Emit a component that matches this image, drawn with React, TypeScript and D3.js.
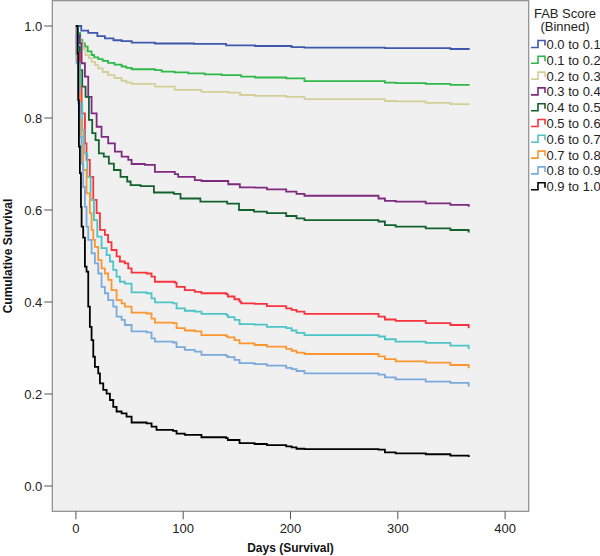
import React from "react";
import * as d3 from "d3";

type Pt = [number, number];

const groupLabels = ["0.0 to 0.1", "0.1 to 0.2", "0.2 to 0.3", "0.3 to 0.4", "0.4 to 0.5", "0.5 to 0.6", "0.6 to 0.7", "0.7 to 0.8", "0.8 to 0.9", "0.9 to 1.0"];
const groupColors = ["#3e58ac", "#2eb848", "#d4cf99", "#7e2a80", "#13622e", "#f8333c", "#4cc4c6", "#fb9630", "#7aa9dc", "#000000"];

const s01: Pt[] = [[0,1],[5,0.99],[11.5,0.985],[20,0.978],[27,0.973],[35,0.969],[42.6,0.967],[52,0.964],[73.6,0.962],[110,0.961],[140,0.958],[167,0.9565],[201,0.954],[213,0.953],[288,0.952],[349,0.95],[367,0.95]];
const s02: Pt[] = [[0,1],[2,0.985],[4,0.97],[6,0.962],[8.4,0.955],[11,0.945],[14.6,0.937],[17,0.932],[20.8,0.928],[25,0.924],[30,0.92],[36,0.916],[42.6,0.912],[47,0.909],[52,0.906],[73.6,0.904],[80,0.901],[92,0.899],[104.7,0.897],[120,0.895],[135.8,0.893],[154,0.89],[167,0.888],[196,0.886],[213,0.88],[288,0.877],[298,0.876],[326,0.874],[349,0.872],[367,0.872]];
const s03: Pt[] = [[0,1],[2,0.975],[4.3,0.962],[7,0.95],[9,0.937],[12,0.93],[14.6,0.922],[18,0.915],[20.8,0.908],[25,0.9],[30,0.893],[36,0.887],[42.6,0.881],[47,0.877],[52,0.874],[73.6,0.868],[92,0.861],[117,0.857],[142,0.855],[153,0.85],[167,0.848],[196,0.846],[213,0.841],[288,0.837],[298,0.836],[326,0.833],[349,0.83],[367,0.83]];
const s04: Pt[] = [[0,1],[2,0.98],[3.7,0.962],[5.3,0.919],[8.4,0.89],[11.5,0.846],[14.6,0.81],[19.3,0.781],[23.9,0.759],[30.1,0.745],[36.3,0.727],[42.6,0.716],[48.8,0.709],[51.9,0.7],[64.3,0.698],[73.6,0.683],[92.2,0.678],[95.3,0.672],[110.8,0.665],[117,0.663],[142,0.656],[152.8,0.649],[166.8,0.6485],[178,0.645],[196,0.64],[205.6,0.635],[213,0.631],[282,0.625],[288,0.62],[298,0.618],[326,0.6145],[349,0.611],[366,0.609],[367,0.609]];
const s05: Pt[] = [[0,1],[1.9,0.955],[3.7,0.904],[5.9,0.868],[9,0.846],[12.1,0.796],[15.2,0.767],[18.3,0.752],[21.4,0.723],[26,0.716],[30.7,0.701],[35.4,0.687],[41.6,0.672],[47.8,0.662],[51,0.654],[60.3,0.652],[72.7,0.638],[91.3,0.635],[97.5,0.625],[116,0.618],[141,0.614],[152,0.6],[166,0.5963],[178,0.593],[196,0.587],[205.6,0.582],[213,0.578],[282,0.575],[288,0.567],[298,0.564],[326,0.56],[349,0.5565],[366,0.553],[367,0.553]];
const s06: Pt[] = [[0,1],[0.6,0.94],[3.7,0.868],[5.3,0.81],[8.4,0.745],[9.9,0.709],[13,0.672],[16.2,0.622],[19.3,0.593],[22.4,0.557],[27,0.546],[30,0.53],[33.2,0.513],[37.9,0.499],[41,0.488],[45.6,0.484],[48.8,0.473],[51.9,0.464],[65.9,0.462],[70.5,0.455],[73.6,0.444],[92.2,0.442],[93.8,0.433],[101.5,0.426],[110.8,0.422],[117,0.419],[140,0.417],[141.6,0.412],[147.8,0.406],[152.5,0.401],[154,0.397],[166.5,0.396],[178,0.391],[196,0.386],[201,0.383],[205.6,0.379],[213,0.374],[282,0.368],[288,0.362],[298,0.359],[326,0.354],[349,0.35],[366,0.345],[367,0.345]];
const s07: Pt[] = [[0,1],[1.9,0.919],[3.7,0.832],[5.9,0.774],[7.5,0.723],[10.6,0.672],[13.7,0.622],[16.8,0.578],[19.9,0.542],[23.9,0.517],[28.6,0.502],[31.7,0.488],[34.8,0.47],[37.9,0.455],[41,0.444],[45.6,0.44],[51.9,0.421],[65.9,0.419],[70.5,0.408],[73.6,0.399],[90.6,0.397],[93.8,0.386],[101.5,0.381],[110.8,0.379],[117,0.374],[140,0.372],[141.6,0.367],[147.8,0.361],[152.5,0.352],[166.5,0.351],[178,0.346],[196,0.343],[201,0.338],[205.6,0.333],[213,0.328],[282,0.325],[288,0.319],[298,0.314],[326,0.311],[349,0.305],[366,0.3],[367,0.3]];
const s08: Pt[] = [[0,1],[0.6,0.926],[2.2,0.854],[3.7,0.796],[5.3,0.738],[6.8,0.687],[9.9,0.636],[13,0.593],[14.6,0.557],[16.2,0.535],[17.7,0.52],[20.8,0.491],[23.9,0.473],[27,0.462],[30.1,0.448],[33.2,0.426],[37.9,0.404],[42.6,0.397],[45.6,0.39],[51.9,0.377],[65.9,0.375],[70.5,0.364],[73.6,0.355],[90.6,0.354],[93.8,0.343],[101.5,0.338],[110.8,0.336],[117,0.328],[140,0.326],[141.6,0.323],[147.8,0.317],[152.5,0.31],[166.5,0.3065],[178,0.303],[196,0.298],[201,0.294],[205.6,0.29],[213,0.287],[282,0.282],[288,0.276],[298,0.271],[326,0.268],[349,0.263],[366,0.258],[367,0.258]];
const s09: Pt[] = [[0,1],[0.6,0.919],[2.2,0.832],[3.7,0.759],[5.3,0.701],[6.8,0.65],[8.4,0.607],[9.9,0.564],[11.5,0.535],[14.6,0.506],[17.7,0.484],[20.8,0.462],[23.9,0.433],[27,0.419],[30.1,0.404],[34.8,0.39],[37.9,0.368],[42.6,0.361],[45.6,0.35],[51.9,0.336],[65.9,0.334],[70.5,0.321],[73.6,0.314],[90.6,0.312],[93.8,0.302],[101.5,0.296],[110.8,0.292],[117,0.285],[140,0.283],[141.6,0.28],[147.8,0.274],[152.5,0.267],[166.5,0.265],[178,0.2615],[196,0.257],[201,0.254],[205.6,0.25],[213,0.245],[282,0.242],[288,0.236],[298,0.232],[326,0.227],[349,0.224],[366,0.218],[367,0.218]];
const s10: Pt[] = [[0,1],[1.6,0.94],[2.2,0.839],[2.8,0.738],[3.7,0.68],[4.7,0.607],[5.3,0.564],[6.8,0.54],[8.4,0.477],[9.9,0.466],[11.5,0.39],[13,0.346],[14.6,0.317],[16.2,0.281],[17.7,0.259],[20.8,0.245],[22.4,0.223],[25.5,0.209],[28.6,0.201],[31.7,0.187],[34.8,0.172],[37.9,0.162],[42.6,0.158],[47.2,0.151],[51.9,0.138],[65.9,0.136],[70.5,0.129],[75.1,0.122],[90.6,0.12],[93.8,0.114],[101.5,0.111],[117,0.106],[140,0.104],[141.6,0.1],[152.5,0.093],[166.5,0.0913],[178,0.089],[196,0.086],[201,0.084],[205.6,0.081],[213,0.08],[282,0.079],[288,0.073],[298,0.071],[326,0.069],[349,0.066],[366,0.065],[367,0.065]];

const seriesList: Pt[][] = [s01, s02, s03, s04, s05, s06, s07, s08, s09, s10];

const xTicks = [0, 100, 200, 300, 400];
const yTicks = [0.0, 0.2, 0.4, 0.6, 0.8, 1.0];

const W = 600, H = 556;
const PL = 52.3, PR = 528.7, PT = 0.7, PB = 511.3;
const FONT = "'Liberation Sans', Arial, sans-serif";

export default function App() {
  const x = d3.scaleLinear().domain([-22, 422]).range([PL, PR]);
  const y = d3.scaleLinear().domain([-0.055, 1.055]).range([PB, PT]);
  const line = d3.line<Pt>().x(d => x(d[0])).y(d => y(d[1])).curve(d3.curveStepAfter);
  const legY0 = 44.5, legDy = 15.8;
  return (
    <svg width={W} height={H} style={{ position: "absolute", left: 0, top: 0, background: "#fff" }} fontFamily={FONT}>
      <defs>
        <clipPath id="clip"><rect x={PL} y={PT} width={PR - PL} height={PB - PT} /></clipPath>
      </defs>
      <rect x={PL} y={PT} width={PR - PL} height={PB - PT} fill="#f0f0f0" stroke="#8c8c8c" strokeWidth={1.2} />
      {yTicks.map(t => (
        <g key={"y" + t}>
          <line x1={PL - 8} x2={PL} y1={y(t)} y2={y(t)} stroke="#555" strokeWidth={1} />
          <text x={PL - 10} y={y(t)} dy="0.35em" textAnchor="end" fontSize={13} fill="#222">{t.toFixed(1)}</text>
        </g>
      ))}
      {xTicks.map(t => (
        <g key={"x" + t}>
          <line x1={x(t)} x2={x(t)} y1={PB} y2={PB + 8} stroke="#555" strokeWidth={1} />
          <text x={x(t)} y={528} dy="0.35em" textAnchor="middle" fontSize={13} fill="#222">{t}</text>
        </g>
      ))}
      <g clipPath="url(#clip)">
        {seriesList.map((s, i) => (
          <path key={i} d={line(s) || ""} fill="none" stroke={groupColors[i]} strokeWidth={1.8} />
        ))}
      </g>
      <text x={(PL + PR) / 2} y={552} textAnchor="middle" fontSize={12} fontWeight="bold" fill="#111">Days (Survival)</text>
      <text transform={`translate(12, ${(PT + PB) / 2}) rotate(-90)`} textAnchor="middle" fontSize={12} fontWeight="bold" fill="#111">Cumulative Survival</text>
      <text x={565} y={13} dy="0.35em" textAnchor="middle" fontSize={13} fill="#222">FAB Score</text>
      <text x={565} y={26.5} dy="0.35em" textAnchor="middle" fontSize={13} fill="#222">(Binned)</text>
      {groupLabels.map((lab, i) => {
        const cy = legY0 + i * legDy;
        return (
          <g key={lab}>
            <path d={`M531,${cy + 3}H538V${cy - 4}H545V${cy + 1}`} fill="none" stroke={groupColors[i]} strokeWidth={1.6} />
            <text x={546.5} y={cy} dy="0.35em" fontSize={13} fill="#222">{lab}</text>
          </g>
        );
      })}
    </svg>
  );
}
